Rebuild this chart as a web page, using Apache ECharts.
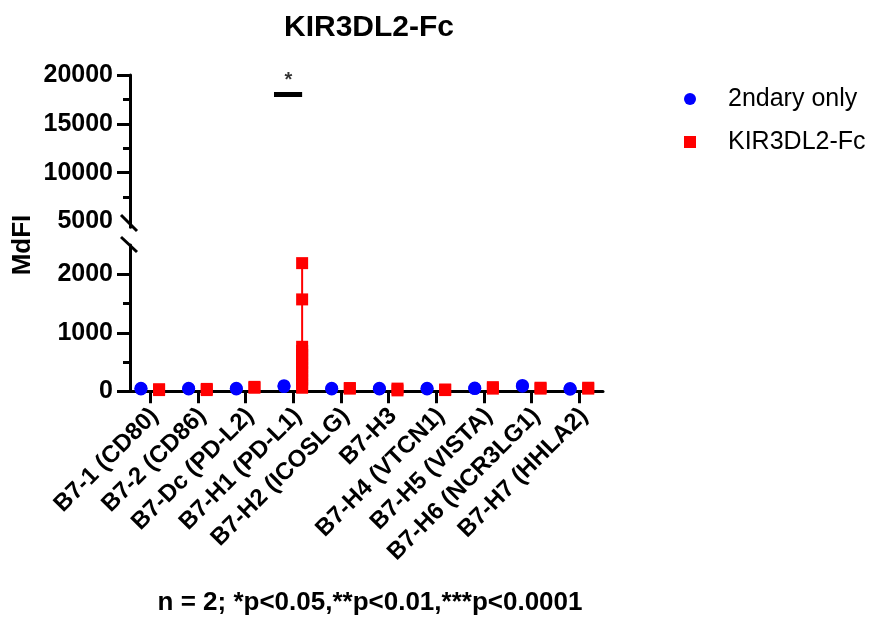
<!DOCTYPE html>
<html>
<head>
<meta charset="utf-8">
<script src="https://cdn.jsdelivr.net/npm/echarts@6/dist/echarts.min.js"></script>
<style>
  html, body { margin: 0; padding: 0; background: #fff; }
  #main { width: 872px; height: 619px; }
</style>
</head>
<body>
<div id="main"></div>
<script>
// categories on the x axis
var categories = ['B7-1 (CD80)', 'B7-2 (CD86)', 'B7-Dc (PD-L2)', 'B7-H1 (PD-L1)', 'B7-H2 (ICOSLG)',
    'B7-H3', 'B7-H4 (VTCN1)', 'B7-H5 (VISTA)', 'B7-H6 (NCR3LG1)', 'B7-H7 (HHLA2)'];

// replicate values per category (MdFI)
var secondaryOnly = [[40, 50], [40, 50], [40, 50], [80, 95], [40, 50], [40, 50], [40, 50], [45, 55], [85, 100], [35, 45]];
var kir3dl2Fc = [[20, 35], [20, 40], [60, 75],
    [2190, 1570, 760, 690, 620, 550, 480, 410, 340, 270, 200, 130, 60],
    [45, 55], [15, 45], [20, 30], [45, 70], [45, 60], [45, 60]];

// tick labels for the broken y axis
var upperLabels = [5000, 10000, 15000, 20000];
var upperTicks = [10000, 15000, 20000];
var upperMinor = [7500, 12500, 17500];
var lowerLabels = [0, 1000, 2000];
var lowerMinor = [500, 1500];

// significance annotation (B7-H1)
var sigCategory = 3;
var sigLevel = 18000;
var sigText = '*';

var FONT = 'Liberation Sans, Arial, sans-serif';
var OFFSET = 0.19;

function points(groups, shift) {
    var out = [];
    groups.forEach(function (vals, i) {
        vals.forEach(function (v) { out.push([i + shift, v]); });
    });
    return out;
}

var redH1 = kir3dl2Fc[sigCategory];
var errorBar = [[sigCategory + OFFSET, Math.min.apply(null, redH1)], [sigCategory + OFFSET, Math.max.apply(null, redH1)]];

var myChart = echarts.init(document.getElementById('main'));

var hiddenX = function (grid) {
    return {
        type: 'value', gridIndex: grid, min: -0.42, max: 9.5,
        axisLine: { show: false }, axisTick: { show: false }, axisLabel: { show: false }, splitLine: { show: false }
    };
};
var plain = function (v) { return String(v); };
var tickLabel = { margin: 17, formatter: plain, fontFamily: FONT, fontSize: 25, fontWeight: 'bold', color: '#000' };

var option = {
    animation: false,
    textStyle: { fontFamily: FONT },
    title: {
        text: 'KIR3DL2-Fc',
        left: 279, top: 8,
        textStyle: { fontFamily: FONT, fontSize: 30, fontWeight: 'bold', color: '#000' }
    },
    legend: {
        orient: 'vertical',
        left: 679, top: 80,
        itemWidth: 12, itemHeight: 12,
        itemGap: 15,
        textStyle: { fontFamily: FONT, fontSize: 25, color: '#000', lineHeight: 28, padding: [0, 0, 0, 27] },
        data: [
            { name: '2ndary only', icon: 'circle' },
            { name: 'KIR3DL2-Fc', icon: 'rect' }
        ]
    },
    grid: [
        { left: 130, width: 473, top: 75, height: 152.3 },
        { left: 130, width: 473, top: 245, height: 146.25 },
        { left: 126.2, width: 477, top: 245, height: 146.25 },
        { left: 130.7, width: 477, top: 245, height: 146.25 }
    ],
    xAxis: [
        hiddenX(0),
        {
            type: 'value', gridIndex: 1, min: -0.42, max: 9.5,
            axisLine: { show: true, onZero: false, lineStyle: { color: '#000', width: 3 } },
            axisTick: { show: false }, axisLabel: { show: false }, splitLine: { show: false }
        },
        {
            type: 'category', gridIndex: 2, data: categories,
            axisLine: { show: false },
            axisTick: { show: true, alignWithLabel: true, interval: 0, length: 12, lineStyle: { color: '#000', width: 3 } },
            axisLabel: { show: false }
        },
        {
            type: 'category', gridIndex: 3, data: categories,
            axisLine: { show: false }, axisTick: { show: false },
            axisLabel: {
                interval: 0, rotate: 45, margin: 21, hideOverlap: false,
                fontFamily: FONT, fontSize: 24, fontWeight: 'bold', color: '#000'
            }
        }
    ],
    yAxis: [
        {
            type: 'value', gridIndex: 0, min: 4400, max: 20000, position: 'left',
            axisLine: { show: true, onZero: false, lineStyle: { color: '#000', width: 3 } },
            axisTick: { show: true, customValues: upperTicks, length: 13, lineStyle: { color: '#000', width: 3 } },
            axisLabel: Object.assign({ customValues: upperLabels }, tickLabel),
            splitLine: { show: false }
        },
        {
            type: 'value', gridIndex: 0, min: 4400, max: 20000, position: 'left',
            axisLine: { show: false, onZero: false },
            axisTick: { show: true, customValues: upperMinor, length: 7, lineStyle: { color: '#000', width: 3 } },
            axisLabel: { show: false }, splitLine: { show: false }
        },
        {
            type: 'value', gridIndex: 1, min: 0, max: 2500, position: 'left',
            axisLine: { show: true, onZero: false, lineStyle: { color: '#000', width: 3 } },
            axisTick: { show: true, customValues: lowerLabels, length: 13, lineStyle: { color: '#000', width: 3 } },
            axisLabel: Object.assign({ customValues: lowerLabels }, tickLabel),
            splitLine: { show: false }
        },
        {
            type: 'value', gridIndex: 1, min: 0, max: 2500, position: 'left',
            axisLine: { show: false, onZero: false },
            axisTick: { show: true, customValues: lowerMinor, length: 7, lineStyle: { color: '#000', width: 3 } },
            axisLabel: { show: false }, splitLine: { show: false }
        },
        { type: 'value', gridIndex: 2, show: false },
        { type: 'value', gridIndex: 3, show: false }
    ],
    graphic: [
        // axis break marks
        { type: 'line', shape: { x1: 121, y1: 215, x2: 137, y2: 231 }, style: { stroke: '#000', lineWidth: 3 } },
        { type: 'line', shape: { x1: 121, y1: 237, x2: 137, y2: 252 }, style: { stroke: '#000', lineWidth: 3 } },
        {
            type: 'text', x: 23, y: 245, rotation: Math.PI / 2,
            style: { text: 'MdFI', font: 'bold 26px ' + FONT, fill: '#000', textAlign: 'center', textVerticalAlign: 'middle' }
        },
        {
            type: 'text', x: 370, y: 603,
            style: { text: 'n = 2; *p<0.05,**p<0.01,***p<0.0001', font: 'bold 26px ' + FONT, fill: '#000', textAlign: 'center', textVerticalAlign: 'middle' }
        }
    ],
    series: [
        {
            name: 'KIR3DL2-Fc error', type: 'line', xAxisIndex: 1, yAxisIndex: 2,
            data: errorBar, symbol: 'none', z: 1,
            lineStyle: { color: '#ff0000', width: 2 }
        },
        {
            name: '2ndary only', type: 'scatter', xAxisIndex: 1, yAxisIndex: 2,
            data: points(secondaryOnly, -OFFSET), symbol: 'circle', symbolSize: 13, z: 3,
            itemStyle: { color: '#0000ff', opacity: 1 }
        },
        {
            name: 'KIR3DL2-Fc', type: 'scatter', xAxisIndex: 1, yAxisIndex: 2,
            data: points(kir3dl2Fc, OFFSET), symbol: 'rect', symbolSize: 12, z: 4,
            itemStyle: { color: '#ff0000', opacity: 1 }
        },
        {
            name: 'sig', type: 'line', xAxisIndex: 0, yAxisIndex: 0,
            data: [[sigCategory - 0.4, sigLevel], [sigCategory + OFFSET, sigLevel]],
            symbol: 'none', lineStyle: { color: '#000', width: 5 }
        },
        {
            name: 'sigText', type: 'scatter', xAxisIndex: 0, yAxisIndex: 0,
            data: [[sigCategory - 0.1, sigLevel]], symbolSize: 0,
            label: { show: true, formatter: sigText, position: 'top', distance: 4, fontFamily: FONT, fontSize: 20, fontWeight: 'bold', color: '#000' }
        }
    ]
};
myChart.setOption(option);
</script>
</body>
</html>
